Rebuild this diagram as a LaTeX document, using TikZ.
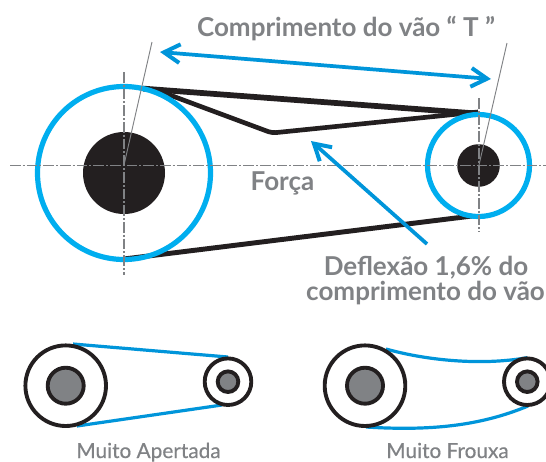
\documentclass[tikz,border=0pt]{standalone}
\usepackage{fontspec}
\setmainfont{Lato}
\newfontfamily\captionfont[FakeBold=0.4]{Lato}
\usetikzlibrary{arrows.meta}
\definecolor{ringblue}{HTML}{00AEEF}
\definecolor{beltblue}{HTML}{0095DA}
\definecolor{beltblack}{HTML}{231F20}
\definecolor{labelgrey}{HTML}{808285}
\tikzset{
  belt/.style={line width=4.3pt,beltblack},
  ring/.style={line width=3.9pt,ringblue},
  axisline/.style={line width=0.8pt,labelgrey,dash pattern=on 8pt off 1.5pt on 1.5pt off 1.5pt},
  thinline/.style={line width=0.7pt,labelgrey},
  spanarrow/.style={line width=2.8pt,beltblue,{Straight Barb[length=12pt,width=14pt,line width=3pt]}-{Straight Barb[length=12pt,width=14pt,line width=3pt]}},
  tipsarrow/.style={line width=2.8pt,beltblue,-{Straight Barb[length=12pt,width=14pt,line width=3pt]}},
  smallblack/.style={line width=2.9pt,beltblack},
  smallbelt/.style={line width=2.4pt,beltblue},
  heading/.style={font=\fontsize{19.5}{19.5}\selectfont\bfseries,text=labelgrey,anchor=base,inner sep=0pt},
  caption/.style={font=\fontsize{15.6}{15.6}\captionfont\selectfont,text=labelgrey,anchor=base,inner sep=0pt}
}
\begin{document}
\begin{tikzpicture}[x=0.75pt,y=-0.75pt]
\newcommand{\smallpulley}[3]{
  \draw[smallblack,fill=white] (#1) circle (#2);
  \draw[smallblack,fill=labelgrey] (#1) circle (#3);
}
\useasboundingbox (0,0) rectangle (546,461);
\fill[white] (0,0) rectangle (546,461);

% main drive
\coordinate (bigc) at (124,173);
\coordinate (smallc) at (478.5,165.5);
\coordinate (topleft) at (143,88.6);
\coordinate (topright) at (478,113.6);
\coordinate (sagleft) at (155,89.5);
\coordinate (sagmid) at (272,133);
\coordinate (sagright) at (478,112);
\coordinate (lowleft) at (124,259);
\coordinate (lowright) at (472,216);

\draw[belt] (topleft) -- (topright);
\draw[belt,line width=3.5pt,rounded corners=3pt] (sagleft) -- (sagmid) -- (sagright);
\draw[belt,line width=3.7pt] (lowleft) -- (lowright);

\draw[ring] (bigc) circle (86.5);
\draw[ring] (smallc) circle (51);
\fill[beltblack] (bigc) circle (41);
\fill[beltblack] (smallc) circle (21.3);

% centre lines
\coordinate (axisw) at (10,165.7);
\coordinate (axise) at (546,165.7);
\coordinate (bign) at (124,72);
\coordinate (bigs) at (124,275);
\coordinate (smalln) at (479,98);
\coordinate (smalls) at (479,232);
\coordinate (bighub) at (124,165);
\coordinate (smallhub) at (479,165);
\coordinate (bigtick) at (152,42);
\coordinate (smalltick) at (507,43);
\draw[axisline] (axisw) -- (axise);
\draw[axisline] (bign) -- (bigs);
\draw[axisline] (smalln) -- (smalls);
\draw[thinline] (bighub) -- (bigtick);
\draw[thinline] (smallhub) -- (smalltick);

% arrows
\coordinate (spanleft) at (160,52);
\coordinate (spanright) at (491,79);
\coordinate (defltail) at (427,244);
\coordinate (deflhead) at (311,141);
\draw[spanarrow] (spanleft) -- (spanright);
\draw[tipsarrow] (defltail) -- (deflhead);

\node[heading] (titlelabel) at (346,36) {Comprimento do vão “ T ”};
\node[heading] (forcelabel) at (282.5,190) {Força};
\node[heading] (defla) at (426,275) {Deflexão 1,6\% do};
\node[heading] (deflb) at (425.5,300) {comprimento do vão};

% too tight
\coordinate (tbig) at (65.7,385.7);
\coordinate (tsmall) at (228,381.7);
\coordinate (ttopa) at (73,344);
\coordinate (ttopb) at (228,357);
\coordinate (tlowa) at (77,426);
\coordinate (tlowb) at (222,405);
\draw[smallbelt] (ttopa) -- (ttopb);
\draw[smallbelt] (tlowa) -- (tlowb);
\smallpulley{tbig}{40.3}{18}
\smallpulley{tsmall}{23.3}{10.3}
\node[caption] (tightlabel) at (148.5,458) {Muito Apertada};

% too slack
\coordinate (sbig) at (365,385.7);
\coordinate (ssmall) at (527.3,381.7);
\coordinate (stopa) at (386,349);
\coordinate (stopb) at (527,357.7);
\coordinate (slowa) at (366,427);
\coordinate (slowb) at (528,406);
\draw[smallbelt] (stopa) .. controls (425,360) and (480,366) .. (stopb);
\draw[smallbelt] (slowa) .. controls (430,431) and (480,426) .. (slowb);
\smallpulley{sbig}{40.3}{18}
\smallpulley{ssmall}{23.3}{10.3}
\node[caption] (slacklabel) at (447.5,458) {Muito Frouxa};
\end{tikzpicture}
\end{document}
